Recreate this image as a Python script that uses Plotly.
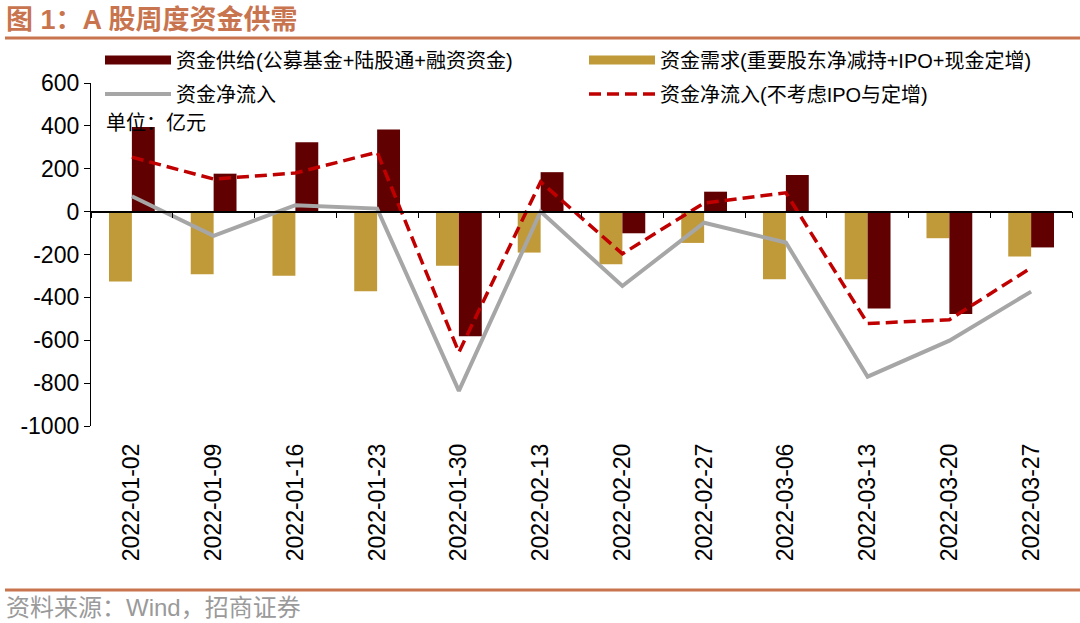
import plotly.graph_objects as go

# ---------------- data ----------------
dates = ["2022-01-02", "2022-01-09", "2022-01-16", "2022-01-23", "2022-01-30",
         "2022-02-13", "2022-02-20", "2022-02-27", "2022-03-06", "2022-03-13",
         "2022-03-20", "2022-03-27"]
supply = [395, 177, 324, 383, -581, 184, -101, 93, 171, -452, -478, -167]
demand = [-326, -292, -299, -372, -253, -191, -245, -146, -315, -315, -124, -209]
net_flow = [72, -113, 30, 14, -836, 0, -347, -52, -144, -770, -602, -373]
net_flow_ex = [254, 152, 180, 277, -656, 139, -197, 40, 88, -522, -504, -262]
y_ticks = [600, 400, 200, 0, -200, -400, -600, -800, -1000]
y_tick_text = [str(v) for v in y_ticks]

name_supply = "资金供给(公募基金+陆股通+融资资金)"
name_demand = "资金需求(重要股东净减持+IPO+现金定增)"
name_net = "资金净流入"
name_net_ex = "资金净流入(不考虑IPO与定增)"

# ---------------- style ----------------
W, H = 1080, 623
ML, MR, MT, MB = 91, 8, 83, 197
C_SUPPLY = "#600000"
C_DEMAND = "#C09A38"
C_NET = "#A6A6A6"
C_NETEX = "#C00000"
C_ACCENT = "#C8744F"
FONT = "Liberation Sans, Arial, Noto Sans CJK SC"
CJK = "Liberation Sans, Noto Sans CJK SC"

pw = W - ML - MR
ph = H - MT - MB


def px_x(p):
    """figure pixel x -> paper x"""
    return (p - ML) / pw


def px_y(p):
    """figure pixel y -> paper y"""
    return (H - MB - p) / ph


fig = go.Figure()

# bars (demand on the left, supply on the right inside each group)
fig.add_trace(go.Bar(x=dates, y=demand, name=name_demand, marker_color=C_DEMAND,
                     marker_line_width=0, showlegend=False))
fig.add_trace(go.Bar(x=dates, y=supply, name=name_supply, marker_color=C_SUPPLY,
                     marker_line_width=0, showlegend=False))

# lines (on the overlaid category axis that sits at y = 0)
fig.add_trace(go.Scatter(x=dates, y=net_flow, mode="lines", name=name_net,
                         xaxis="x2", line=dict(color=C_NET, width=4),
                         legend="legend2"))
fig.add_trace(go.Scatter(x=dates, y=net_flow_ex, mode="lines", name=name_net_ex,
                         xaxis="x2",
                         line=dict(color=C_NETEX, width=3.5, dash="12px,6px"),
                         legend="legend2"))

# legend entries for bars (wide rectangular swatches)
fig.add_trace(go.Scatter(x=[None], y=[None], mode="lines", name=name_supply,
                         line=dict(color=C_SUPPLY, width=9), legend="legend"))
fig.add_trace(go.Scatter(x=[None], y=[None], mode="lines", name=name_demand,
                         line=dict(color=C_DEMAND, width=9), legend="legend"))

legend_common = dict(orientation="h", xanchor="left", yanchor="middle",
                     bgcolor="rgba(0,0,0,0)", borderwidth=0,
                     font=dict(family=CJK, size=20, color="#000000"),
                     itemwidth=66, entrywidth=403, entrywidthmode="pixels",
                     tracegroupgap=0)

x_range = [-0.5, len(dates) - 0.5]
fig.update_layout(
    width=W, height=H,
    margin=dict(l=ML, r=MR, t=MT, b=MB),
    paper_bgcolor="white", plot_bgcolor="white",
    barmode="group", bargap=0.44, bargroupgap=0,
    font=dict(family=FONT, size=23, color="#000000"),
    legend=dict(x=px_x(100), y=px_y(60), **legend_common),
    legend2=dict(x=px_x(100), y=px_y(94), **legend_common),
    xaxis=dict(
        type="category", categoryorder="array", categoryarray=dates,
        range=x_range, side="bottom",
        tickangle=-90, ticks="", showline=False, showgrid=False, zeroline=False,
        ticklabelstandoff=12,
        tickfont=dict(family=FONT, size=23, color="#000000"),
    ),
    xaxis2=dict(
        type="category", categoryorder="array", categoryarray=dates,
        range=x_range, overlaying="x",
        anchor="free", position=(0 - y_ticks[-1]) / (y_ticks[0] - y_ticks[-1]),
        showline=True, linecolor="#000000", linewidth=1.5,
        ticks="outside", ticklen=6, tickcolor="#000000", tickwidth=1.3,
        tickson="boundaries", showticklabels=False, showgrid=False,
        zeroline=False,
    ),
    yaxis=dict(
        range=[y_ticks[-1], y_ticks[0]], tickmode="array", tickvals=y_ticks,
        ticktext=y_tick_text,
        showline=True, linecolor="#000000", linewidth=1.3,
        ticks="outside", ticklen=6, tickcolor="#000000", tickwidth=1.3,
        showgrid=False, zeroline=False,
        tickfont=dict(family=FONT, size=23, color="#000000"),
    ),
)

# title, unit, source
fig.add_annotation(xref="paper", yref="paper", x=px_x(4), y=px_y(20),
                   xanchor="left", yanchor="middle", showarrow=False,
                   text="<b>图 1：A 股周度资金供需</b>",
                   font=dict(family=CJK, size=27, color=C_ACCENT))
fig.add_annotation(xref="paper", yref="paper", x=px_x(104), y=px_y(123),
                   xanchor="left", yanchor="middle", showarrow=False,
                   text="单位：亿元",
                   font=dict(family=CJK, size=20, color="#000000"))
fig.add_annotation(xref="paper", yref="paper", x=px_x(4), y=px_y(607),
                   xanchor="left", yanchor="middle", showarrow=False,
                   text="资料来源：Wind，招商证券",
                   font=dict(family=CJK, size=24, color="#9A9A9A"))

fig.add_shape(type="line", xref="paper", yref="paper",
              x0=px_x(5), x1=px_x(1080), y0=px_y(38), y1=px_y(38),
              line=dict(color=C_ACCENT, width=3))
fig.add_shape(type="line", xref="paper", yref="paper",
              x0=px_x(5), x1=px_x(1080), y0=px_y(590), y1=px_y(590),
              line=dict(color=C_ACCENT, width=3))

# remove the browser's default 8px body margin so the figure fills the window
fig.write_html("out.html", config={"displayModeBar": False},
               post_script="document.body.style.margin='0px';")
